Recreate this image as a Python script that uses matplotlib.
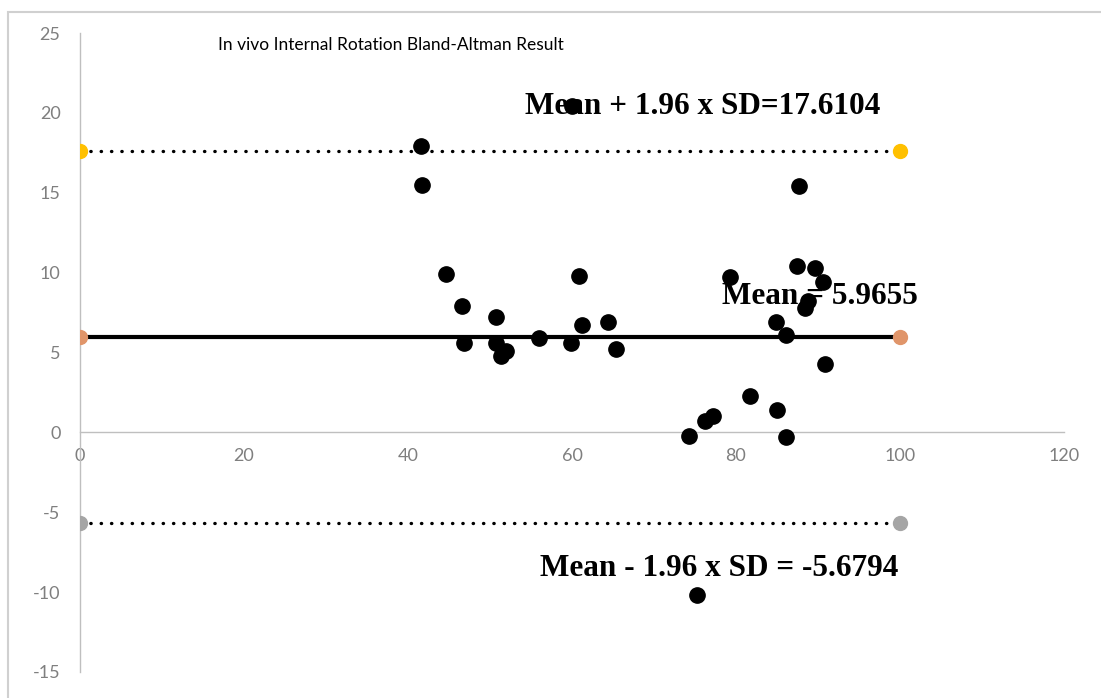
import matplotlib
matplotlib.use('Agg')
import matplotlib.pyplot as plt
from matplotlib.patches import Rectangle

plt.rcParams['axes.unicode_minus'] = False

# Bland-Altman points (mean of methods, difference)
avg_vals = [41.6, 41.7, 44.6, 46.6, 46.8, 50.7, 50.7, 51.3, 52.0, 56.0,
            59.9, 60.9, 61.2, 64.4, 65.4, 60.0, 74.3, 76.2, 77.2, 79.3,
            81.7, 84.9, 85.0, 86.1, 86.1, 87.7, 87.4, 89.6, 90.6, 88.8,
            88.4, 90.9, 75.2]
diff_vals = [17.9, 15.5, 9.9, 7.9, 5.6, 7.2, 5.6, 4.75, 5.1, 5.9,
             5.6, 9.8, 6.7, 6.9, 5.2, 20.4, -0.2, 0.7, 1.0, 9.75,
             2.3, 6.9, 1.4, -0.3, 6.1, 15.4, 10.4, 10.3, 9.4, 8.2,
             7.8, 4.3, -10.2]

line_x = [0, 100]
mean_diff = 5.9655
upper_loa = 17.6104
lower_loa = -5.6794

x_ticks = [0, 20, 40, 60, 80, 100, 120]
y_ticks = [-15, -10, -5, 0, 5, 10, 15, 20, 25]

W, H = 1101, 698
fig = plt.figure(figsize=(W / 100, H / 100), dpi=100)
fig.patch.set_facecolor('white')

# chart frame (left and top edges visible)
fig.add_artist(Rectangle((8 / W, -0.05), 1.2, 1 - 12 / H + 0.05, transform=fig.transFigure,
                         fill=False, edgecolor='#d0d0d0', linewidth=1.5))

ax = fig.add_axes([80 / W, 1 - 672 / H, (1064 - 80) / W, (672 - 33) / H])
ax.set_xlim(0, 120)
ax.set_ylim(-15, 25)

for s in ['top', 'right']:
    ax.spines[s].set_visible(False)
ax.spines['left'].set_color('#bfbfbf')
ax.spines['left'].set_linewidth(1)
ax.spines['bottom'].set_position(('data', 0))
ax.spines['bottom'].set_color('#bfbfbf')
ax.spines['bottom'].set_linewidth(1)

ax.set_xticks(x_ticks)
ax.set_yticks(y_ticks)
ax.tick_params(axis='both', length=0, labelsize=13, labelcolor='#7f7f7f')
ax.tick_params(axis='x', pad=11)
ax.tick_params(axis='y', pad=14)
for lab in ax.get_xticklabels() + ax.get_yticklabels():
    lab.set_family('Lato')

# limits of agreement and mean
ax.plot(line_x, [upper_loa, upper_loa], color='black', lw=2.4,
        linestyle=(0, (0.1, 3.0)), dash_capstyle='round', zorder=2)
ax.plot(line_x, [lower_loa, lower_loa], color='black', lw=2.4,
        linestyle=(0, (0.1, 3.0)), dash_capstyle='round', zorder=2)
ax.plot(line_x, [mean_diff, mean_diff], color='black', lw=3, zorder=2)

ax.plot(line_x, [upper_loa, upper_loa], 'o', color='#ffc000', ms=10, zorder=3)
ax.plot(line_x, [mean_diff, mean_diff], 'o', color='#e0956a', ms=10, zorder=3)
ax.plot(line_x, [lower_loa, lower_loa], 'o', color='#a5a5a5', ms=10, zorder=3)

ax.plot(avg_vals, diff_vals, 'o', color='black', ms=11, zorder=5)

txt_style = dict(family='Liberation Serif', fontweight='bold', fontsize=22.5,
                 va='center', ha='left', zorder=4)
ax.text(54.3, 20.4, 'Mean + 1.96 x SD=17.6104', **txt_style)
ax.text(78.3, 8.5, 'Mean = 5.9655', **txt_style)
ax.text(56.1, -8.5, 'Mean - 1.96 x SD = -5.6794', **txt_style)

fig.text(218 / W, 1 - 45 / H, 'In vivo Internal Rotation Bland-Altman Result',
         family='Lato', fontsize=12.5, color='black', va='center', ha='left')

fig.savefig('out.png', dpi=100)
